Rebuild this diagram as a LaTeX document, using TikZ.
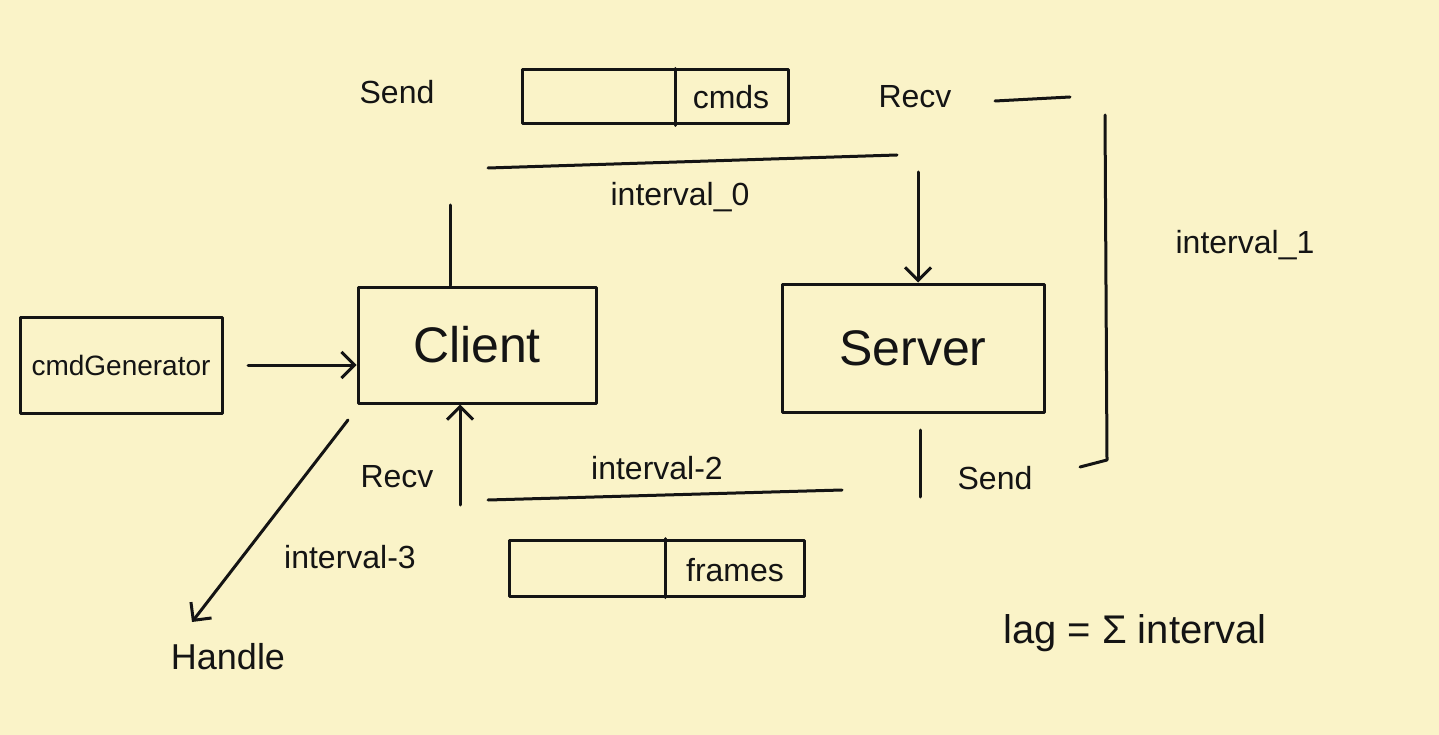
\documentclass[tikz,border=0pt]{standalone}
\usepackage{fontspec}
\setmainfont{Liberation Sans}
\usetikzlibrary{arrows.meta}
\definecolor{paper}{RGB}{250,243,200}
\definecolor{ink}{RGB}{20,20,20}
\begin{document}
\begin{tikzpicture}[x=1pt,y=-1pt,
  line width=3pt, draw=ink, line cap=round, line join=round,
  pen/.style={draw=ink, line width=3pt},
  arr/.style={pen, -{Straight Barb[length=13pt,width=26pt,line width=3pt]}},
  box/.style={pen, rectangle, inner sep=0pt},
  lbl/.style={text=ink, inner sep=0pt, font=\fontsize{32}{38}\selectfont},
  big/.style={text=ink, inner sep=0pt, font=\fontsize{50}{60}\selectfont},
  mid/.style={text=ink, inner sep=0pt, font=\fontsize{28}{34}\selectfont}]
\useasboundingbox[fill=paper] (0,0) rectangle (1439,735);

% main boxes
\node[box, big, minimum width=238pt, minimum height=116pt] (client) at (477,345) {Client};
\node[box, big, minimum width=262pt, minimum height=128pt] (server) at (913,348) {Server};
\node[box, mid, minimum width=202pt, minimum height=96pt] (gen) at (121,365) {cmdGenerator};

% cmds queue
\node[box, minimum width=266pt, minimum height=54pt] (cmdq) at (655,97) {};
\draw[pen] (675,0 |- cmdq.north) -- (675,0 |- cmdq.south);
\node[lbl] (cmds) at (731,97) {cmds};

% frames queue
\node[box, minimum width=295pt, minimum height=56pt] (frameq) at (657,568) {};
\draw[pen] (665,0 |- frameq.north) -- (665,0 |- frameq.south);
\node[lbl] (frames) at (735,570) {frames};

% labels
\node[lbl] (send1) at (397,92) {Send};
\node[lbl] (recv1) at (915,97) {Recv};
\node[lbl] (recv2) at (397,477) {Recv};
\node[lbl] (send2) at (995,478) {Send};
\node[lbl] (i0) at (680,197) {interval\_0};
\node[lbl] (i1) at (1245,245) {interval\_1};
\node[lbl] (i2) at (657,468) {interval-2};
\node[lbl] (i3) at (350,557) {interval-3};
\node[lbl, font=\fontsize{36}{42}\selectfont] (handle) at (228,657) {Handle};
\node[lbl, font=\fontsize{40}{48}\selectfont] (lag) at (1135,633) {lag = Σ interval};

% coordinates
\coordinate (c0) at (450,205);
\coordinate (t0) at (488,168);
\coordinate (t1) at (897,155);
\coordinate (a0) at (918,172);
\coordinate (r0) at (995,101);
\coordinate (r1) at (1070,97);
\coordinate (b0) at (1105,115);
\coordinate (b1) at (1107,460);
\coordinate (b2) at (1080,467);
\coordinate (s0) at (920,497);
\coordinate (s1) at (920,430);
\coordinate (m0) at (488,500);
\coordinate (m1) at (842,490);
\coordinate (u0) at (460,505);
\coordinate (h0) at (348,420);
\coordinate (h1) at (192,622);
\coordinate (g0) at (248,365);

% connectors
\draw[arr] (g0) -- (client.west |- g0);
\draw[pen] (client.north -| c0) -- (c0);
\draw[pen] (t0) -- (t1);
\draw[arr] (a0) -- (server.north -| a0);
\draw[pen] (r0) -- (r1);
\draw[pen] (b0) -- (b1) -- (b2);
\draw[pen] (s1) -- (s0);
\draw[pen] (m0) -- (m1);
\draw[arr] (u0) -- (client.south -| u0);
\draw[arr] (h0) -- (h1);
\end{tikzpicture}
\end{document}
